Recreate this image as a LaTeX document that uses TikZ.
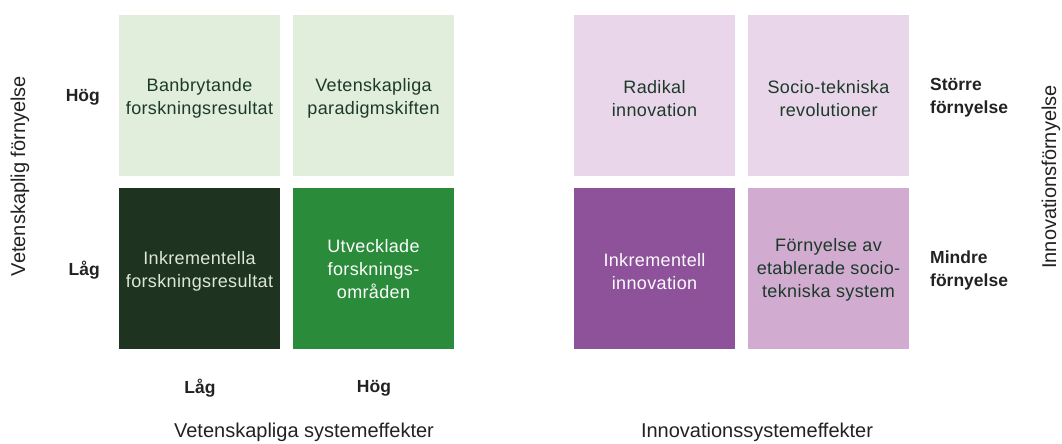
\documentclass[tikz,border=0pt]{standalone}
\usepackage{fontspec}
\setmainfont{Liberation Sans}
\newfontfamily\boxfont[LetterSpace=2]{Liberation Sans}
\definecolor{lgreen}{HTML}{E2EEDC}
\definecolor{dgreen}{HTML}{1E3320}
\definecolor{mgreen}{HTML}{2A8B3A}
\definecolor{lpurple}{HTML}{E9D6EA}
\definecolor{dpurple}{HTML}{8E529B}
\definecolor{mpurple}{HTML}{D2ABD0}
\definecolor{darktext}{HTML}{1C3A2A}
\definecolor{lighttext}{HTML}{DCE8D6}
\definecolor{labeltext}{HTML}{222222}
\tikzset{
  cell/.style={minimum width=161pt, minimum height=161pt, inner sep=0pt},
  celltext/.style={inner sep=0pt, align=center, font=\boxfont\fontsize{18}{23}\selectfont},
  darktxt/.style={celltext, text=darktext},
  lighttxt/.style={celltext, text=lighttext},
  lvl/.style={font=\bfseries\fontsize{17.5}{23}\selectfont, text=labeltext, inner sep=0pt},
  axis/.style={font=\fontsize{20}{24}\selectfont, text=labeltext, inner sep=0pt},
}
\begin{document}
\begin{tikzpicture}[x=1pt,y=-1pt]
\useasboundingbox (0,0) rectangle (1062,444);
% left grid
\node[cell, fill=lgreen] (a1) at (199.5,95.5) {};
\node[cell, fill=lgreen] (a2) at (373.5,95.5) {};
\node[cell, fill=dgreen] (a3) at (199.5,268.5) {};
\node[cell, fill=mgreen] (a4) at (373.5,268.5) {};
\node[darktxt] (a1t) at ([yshift=-3pt]a1.center) {Banbrytande\\forskningsresultat};
\node[darktxt] (a2t) at ([yshift=-3pt]a2.center) {Vetenskapliga\\paradigmskiften};
\node[lighttxt] (a3t) at ([yshift=-3pt]a3.center) {Inkrementella\\forskningsresultat};
\node[lighttxt, text=white!92!lgreen] (a4t) at ([yshift=-1pt]a4.center) {Utvecklade\\forsknings-\\områden};
% right grid
\node[cell, fill=lpurple] (b1) at (654.5,95.5) {};
\node[cell, fill=lpurple] (b2) at (828.5,95.5) {};
\node[cell, fill=dpurple] (b3) at (654.5,268.5) {};
\node[cell, fill=mpurple] (b4) at (828.5,268.5) {};
\node[darktxt] (b1t) at ([yshift=-3pt]b1.center) {Radikal\\innovation};
\node[darktxt] (b2t) at ([yshift=-3pt]b2.center) {Socio-tekniska\\revolutioner};
\node[lighttxt, text=white!90!lpurple] (b3t) at ([yshift=-3pt]b3.center) {Inkrementell\\innovation};
\node[darktxt] (b4t) at ([yshift=-1pt]b4.center) {Förnyelse av\\etablerade socio-\\tekniska system};
% level labels
\node[lvl, anchor=east] (hl) at (100,97) {Hög};
\node[lvl, anchor=east] (ll) at (100,270) {Låg};
\node[lvl] (lb) at (200,388) {Låg};
\node[lvl] (hb) at (374,388) {Hög};
\node[lvl, anchor=west, align=left] (st) at (930,98) {Större\\förnyelse};
\node[lvl, anchor=west, align=left] (mi) at (930,270) {Mindre\\förnyelse};
% axis labels
\node[axis] (ax1) at (304,432) {Vetenskapliga systemeffekter};
\node[axis] (ax2) at (757,432) {Innovationssystemeffekter};
\node[axis, rotate=90] (ay1) at (20,176) {Vetenskaplig förnyelse};
\node[axis, rotate=90] (ay2) at (1051,177) {Innovationsförnyelse};
\end{tikzpicture}
\end{document}
